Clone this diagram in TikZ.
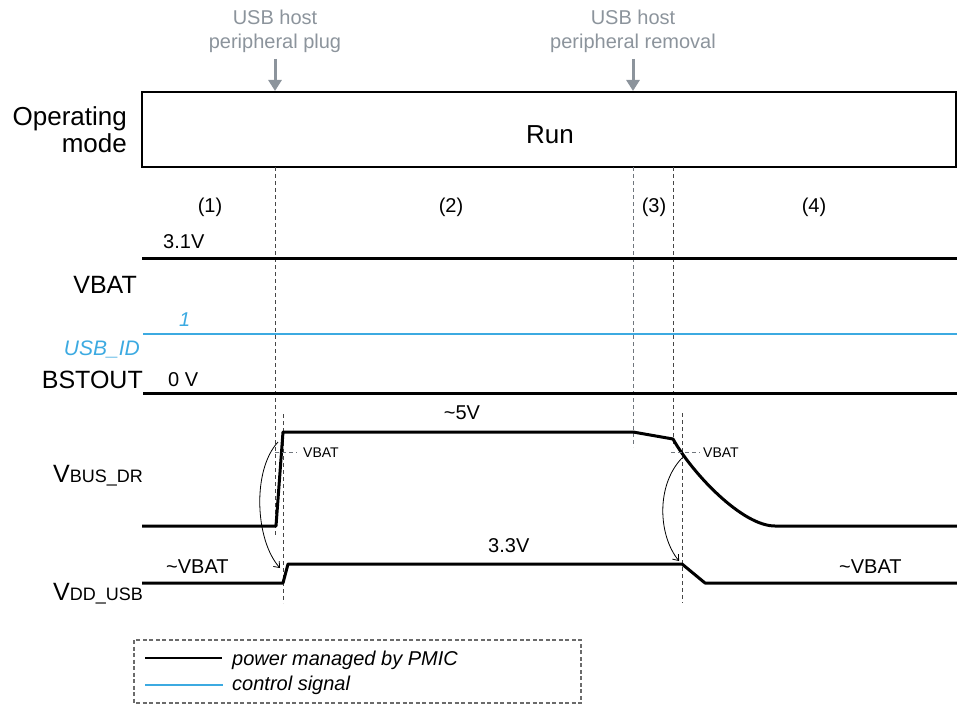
\documentclass[tikz,border=0pt]{standalone}
\usepackage{fontspec}
\setmainfont{Liberation Sans}
\usetikzlibrary{arrows.meta, positioning, calc}
\definecolor{cGray}{RGB}{140,148,156}
\definecolor{cSig}{RGB}{60,170,225}
\definecolor{cGuide}{RGB}{70,70,70}
\tikzset{
	pwr/.style      ={line width=3pt, black},
	ctl/.style      ={line width=1.8pt, cSig},
	guide/.style    ={line width=0.9pt, cGuide, dash pattern=on 4pt off 3pt},
	guidegray/.style={line width=0.9pt, cGray!80!black, dash pattern=on 4pt off 3pt},
	evtarrow/.style ={-{Triangle[length=11pt,width=13pt]}, line width=3pt, cGray},
	delay/.style    ={-{Straight Barb[length=5pt,width=8pt]}, line width=0.8pt},
	% text styles
	lblbig/.style   ={font=\fontsize{26}{27}\selectfont, inner sep=0pt},
	lblsig/.style   ={font=\fontsize{25}{27}\selectfont, inner sep=0pt},
	lblmid/.style   ={font=\fontsize{20}{24}\selectfont, inner sep=0pt},
	lblsml/.style   ={font=\fontsize{14}{16}\selectfont, inner sep=0pt},
	evttxt/.style   ={font=\fontsize{20}{24}\selectfont, text=cGray, align=center, inner sep=0pt},
}
\begin{document}
\begin{tikzpicture}[x=1pt,y=-1pt]
	\useasboundingbox (0,0) rectangle (957,706);
	% events
	\node[evttxt, anchor=base] (plug) at (275,49) {USB host\\peripheral plug};
	\node[evttxt, anchor=base] (removal) at (633,49) {USB host\\peripheral removal};
	\coordinate (plugA) at (275,59);
	\coordinate (plugB) at (275,91);
	\coordinate (remA) at (633,59);
	\coordinate (remB) at (633,91);
	\draw[evtarrow] (plugA) -- (plugB);
	\draw[evtarrow] (remA) -- (remB);
	% operating mode
	\draw[line width=1.2pt] (142,92) rectangle (956,167);
	\node[lblbig, anchor=base east, align=right] (opmode) at (127,152) {Operating\\mode};
	\node[lblbig, anchor=base] (run) at (550,143) {Run};
	% phases
	\node[lblmid, anchor=base] (ph1) at (210,212) {(1)};
	\node[lblmid, anchor=base] (ph2) at (451,212) {(2)};
	\node[lblmid, anchor=base] (ph3) at (654,212) {(3)};
	\node[lblmid, anchor=base] (ph4) at (814,212) {(4)};
	% guides
	\draw[guide] (275,167) -- (275,537);
	\draw[guide] (283,414) -- (283,603);
	\draw[guidegray] (633,167) -- (633,447);
	\draw[guide] (673,167) -- (673,447);
	\draw[guide] (682,413) -- (682,603);
	% VBAT
	\draw[pwr] (142,258) -- (957,258);
	\node[lblmid, anchor=base west] (v31) at (163,248) {3.1V};
	\node[lblsig, anchor=base east] (vbat) at (137,293) {VBAT};
	% USB_ID
	\draw[ctl] (143,334) -- (957,334);
	\node[lblmid, anchor=base west, text=cSig] (id1) at (179,326) {\itshape 1};
	\node[lblmid, anchor=base east, text=cSig, font=\fontsize{21}{24}\selectfont\itshape] (usbid) at (140,355) {USB\_ID};
	% BSTOUT
	\draw[pwr] (143,393) -- (957,393);
	\node[lblsig, anchor=base east] (bstout) at (143,388) {BSTOUT};
	\node[lblmid, anchor=base west] (v0) at (168,386) {0 V};
	% VBUS_DR
	\draw[pwr, line join=round] (142,526) -- (276,526) -- (283,432) -- (633,432) -- (673,439)
		.. controls (692,473) and (742,526) .. (775,526) -- (957,526);
	\node[lblmid, anchor=base] (v5) at (462,419) {\textasciitilde 5V};
	\node[anchor=base west, inner sep=0pt] (vbus) at (53,482)
		{{\fontsize{25}{27}\selectfont V}{\fontsize{18}{20}\selectfont BUS\_DR}};
	\draw[guidegray] (275,452) -- (297,452);
	\node[lblsml, anchor=base west] (thr1) at (303,457) {VBAT};
	\draw[guidegray] (671,452) -- (700,452);
	\node[lblsml, anchor=base west] (thr2) at (703,457) {VBAT};
	% VDD_USB
	\draw[pwr, line join=round] (142,583) -- (283,583) -- (288,564) -- (682,564) -- (705,583) -- (957,583);
	\node[lblmid, anchor=base west] (vdd1) at (166,573) {\textasciitilde VBAT};
	\node[lblmid, anchor=base west] (v33) at (488,552) {3.3V};
	\node[lblmid, anchor=base west] (vdd2) at (839,573) {\textasciitilde VBAT};
	\node[anchor=base west, inner sep=0pt] (vdd) at (53,600)
		{{\fontsize{25}{27}\selectfont V}{\fontsize{18}{20}\selectfont DD\_USB}};
	% delays
	\coordinate (d1a) at (278,442);
	\coordinate (d1b) at (280,568);
	\coordinate (d2a) at (682,458);
	\coordinate (d2b) at (679,561);
	\draw[delay] (d1a) .. controls (252,470) and (255,540) .. (d1b);
	\draw[delay] (d2a) .. controls (656,485) and (658,535) .. (d2b);
	% legend
	\draw[line width=1.1pt, cGuide!80, dash pattern=on 4pt off 2.5pt] (134,640) rectangle (581,703);
	\coordinate (lg1a) at (145,658);
	\coordinate (lg1b) at (222,658);
	\coordinate (lg2a) at (145,685);
	\coordinate (lg2b) at (223,685);
	\draw[line width=2.5pt] (lg1a) -- (lg1b);
	\draw[line width=2.5pt, cSig] (lg2a) -- (lg2b);
	\node[lblmid, anchor=base west, font=\fontsize{20}{24}\selectfont\itshape] (leg1) at (232,665) {power managed by PMIC};
	\node[lblmid, anchor=base west, font=\fontsize{20}{24}\selectfont\itshape] (leg2) at (232,690) {control signal};
\end{tikzpicture}
\end{document}
